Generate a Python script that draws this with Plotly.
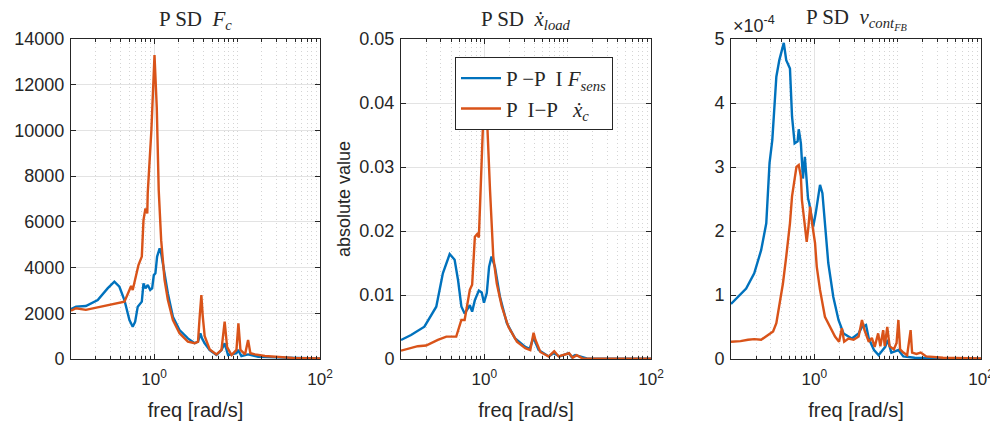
import plotly.graph_objects as go

# ── Dados ─────────────────────────────────────────────────────────────────
# PSD F_c
fc_freq_ppi = [0.1, 0.115, 0.151, 0.21, 0.276, 0.333, 0.383, 0.44, 0.506, 0.554,
               0.593, 0.637, 0.713, 0.747, 0.789, 0.842, 0.90, 0.95, 0.995, 1.04,
               1.09, 1.17, 1.22, 1.34, 1.47, 1.69, 2.03, 2.56, 3.09, 3.39, 3.62,
               3.79, 4.08, 4.69, 5.65, 6.5, 7.1, 7.8, 9.85, 10.3, 11.3, 13.6, 18,
               30, 50, 100]
fc_psd_ppi = [2180, 2290, 2320, 2580, 3090, 3380, 3160, 2580, 1700, 1410,
              1630, 2290, 2510, 3310, 3090, 3240, 3020, 3090, 3670, 3750,
              4480, 4840, 4620, 3750, 2870, 1850, 1270, 900, 690, 760, 1120,
              900, 690, 390, 175, 390, 690, 175, 250, 400, 130, 200, 100,
              70, 40, 20]

fc_freq_pip = [0.1, 0.115, 0.151, 0.21, 0.276, 0.365, 0.44, 0.506, 0.53, 0.554,
               0.593, 0.65, 0.713, 0.747, 0.77, 0.79, 0.83, 0.84, 0.93, 1.014,
               1.08, 1.14, 1.22, 1.34, 1.47, 1.69, 2.03, 2.56, 3.09, 3.39, 3.55,
               3.72, 3.86, 4.08, 4.69, 5.65, 6.5, 7.1, 7.6, 8.6, 9.85, 10.4, 11,
               12.5, 13.6, 14.5, 16.5, 21.7, 47, 100]
fc_psd_pip = [2110, 2220, 2150, 2260, 2360, 2460, 2510, 3020, 3200, 3020,
              3460, 4110, 4480, 6080, 6370, 6590, 6370, 7250, 10000, 13300,
              11000, 7390, 5200, 3460, 2580, 1700, 1120, 760, 690, 760, 1850,
              2800, 1900, 1000, 420, 200, 400, 1630, 520, 175, 400, 1560, 400,
              200, 830, 250, 200, 130, 50, 20]

# PSD x_load
xl_freq_ppi = [0.1, 0.132, 0.191, 0.265, 0.318, 0.384, 0.44, 0.484, 0.53, 0.58,
               0.67, 0.714, 0.77, 0.86, 0.93, 0.99, 1.07, 1.14, 1.22, 1.34,
               1.54, 1.86, 2.34, 3.1, 3.5, 3.9, 4.1, 4.48, 5.93, 6.8, 8, 10.3,
               11.2, 12.3, 17, 40, 100]
xl_psd_ppi = [0.00297, 0.00375, 0.00505, 0.00817, 0.0134, 0.0164, 0.0155, 0.0123,
              0.0082, 0.0071, 0.0084, 0.0074, 0.0092, 0.0107, 0.0104, 0.0088,
              0.0103, 0.0144, 0.016, 0.0144, 0.0097, 0.0056, 0.0032, 0.0019,
              0.0016, 0.0034, 0.0026, 0.0014, 0.0004, 0.0009, 0.0004, 0.0009,
              0.0003, 0.0006, 0.0001, 0.00005, 0.00003]

xl_freq_pip = [0.1, 0.159, 0.2, 0.277, 0.35, 0.46, 0.53, 0.58, 0.67, 0.714,
               0.77, 0.82, 0.86, 0.9, 0.96, 1.02, 1.09, 1.17, 1.28, 1.41, 1.62,
               1.95, 2.46, 3.1, 3.56, 3.9, 4.1, 4.7, 5.93, 6.9, 7.8, 10.4, 11.5,
               12.8, 15, 40, 100]
xl_psd_pip = [0.0013, 0.002, 0.0021, 0.003, 0.0035, 0.0035, 0.0061, 0.0061,
              0.0108, 0.0116, 0.0191, 0.0195, 0.019, 0.0264, 0.036, 0.0415,
              0.036, 0.0264, 0.016, 0.0118, 0.0082, 0.005, 0.0027, 0.0017,
              0.0014, 0.0041, 0.003, 0.0011, 0.0004, 0.0012, 0.0004, 0.0009,
              0.0002, 0.0006, 0.0001, 0.00005, 0.00003]

# PSD v_cont_FB (x 1e-4)
vc_freq_ppi = [0.1, 0.152, 0.19, 0.23, 0.265, 0.28, 0.29, 0.313, 0.35, 0.38,
               0.43, 0.46, 0.51, 0.54, 0.58, 0.63, 0.65, 0.69, 0.73, 0.77,
               0.81, 0.84, 0.87, 0.93, 0.97, 1.04, 1.1, 1.17, 1.25, 1.34, 1.47,
               1.69, 1.95, 2.24, 2.82, 3.4, 3.73, 4.17, 4.5, 5.2, 5.9, 7.1, 7.6,
               8.4, 10.2, 11.7, 16, 40, 100]
vc_psd_ppi = [0.86, 1.1, 1.34, 1.7, 2.12, 2.64, 3.06, 3.42, 4.41, 4.67,
              4.94, 4.67, 4.54, 3.79, 3.37, 3.4, 3.59, 3.37, 2.82, 3.16,
              2.85, 2.51, 2.43, 2.17, 2.07, 2.28, 2.5, 2.72, 2.59, 2.12, 1.5,
              0.97, 0.61, 0.4, 0.32, 0.4, 0.5, 0.53, 0.32, 0.14, 0.06, 0.19,
              0.3, 0.1, 0.14, 0.04, 0.02, 0.01, 0.005]

vc_freq_pip = [0.1, 0.13, 0.16, 0.19, 0.23, 0.277, 0.32, 0.35, 0.38, 0.42,
               0.46, 0.51, 0.54, 0.57, 0.61, 0.65, 0.69, 0.71, 0.77, 0.81,
               0.85, 0.89, 0.94, 1.02, 1.07, 1.17, 1.34, 1.54, 1.77, 1.98,
               2.14, 2.28, 2.57, 2.96, 3.4, 3.73, 4.0, 4.5, 4.9, 5.3, 5.83,
               6.2, 6.7, 7.0, 7.5, 8.0, 9.0, 9.7, 10.2, 10.7, 11.7, 13, 14.3,
               14.9, 16.8, 18.9, 22, 35, 100]
vc_psd_pip = [0.27, 0.28, 0.3, 0.31, 0.3, 0.375, 0.43, 0.56, 0.82, 1.18,
              1.6, 2.12, 2.54, 2.75, 3.0, 3.03, 2.85, 2.48, 2.12, 1.83,
              2.07, 2.38, 2.12, 1.81, 1.44, 1.08, 0.66, 0.5, 0.35, 0.27,
              0.48, 0.27, 0.32, 0.3, 0.35, 0.61, 0.45, 0.27, 0.33, 0.19, 0.4,
              0.2, 0.45, 0.2, 0.5, 0.2, 0.15, 0.25, 0.61, 0.15, 0.1, 0.06, 0.45,
              0.1, 0.08, 0.1, 0.04, 0.02, 0.01]

x_tick_vals = [1, 100]
x_tick_text = ["10<sup>0</sup>", "10<sup>2</sup>"]
minor_vals = ([m * 0.1 for m in range(2, 10)] + list(range(2, 10))
              + [10] + [m * 10 for m in range(2, 10)])

# ── Estilo ─────────────────────────────────────────────────────────────────
BLUE = "#0072BD"
ORANGE = "#D95319"
AX = "#262626"
SANS = "Liberation Sans, Arial, sans-serif"
SERIF = "Liberation Serif, DejaVu Serif, serif"

# a página tem 8 px de margem no body -> figura deslocada 8 px
OFF = 8
W, H = 998 - OFF, 425 - OFF
TOP, BOT = 39 - OFF, 359 - OFF


def px(x):
    return (x - OFF) / W


fig = go.Figure()

panels = [
    (fc_freq_ppi, fc_psd_ppi, fc_freq_pip, fc_psd_pip, 1.0),
    (xl_freq_ppi, xl_psd_ppi, xl_freq_pip, xl_psd_pip, 1.0),
    (vc_freq_ppi, vc_psd_ppi, vc_freq_pip, vc_psd_pip, 1e-4),
]
for i, (fa, ya, fb, yb, sc) in enumerate(panels):
    sfx = "" if i == 0 else str(i + 1)
    fig.add_trace(go.Scatter(
        x=fa, y=[v * sc for v in ya], mode="lines",
        line=dict(color=BLUE, width=2.4),
        name="P \u2212P  I <i>F</i><sub><i>sens</i></sub>",
        showlegend=(i == 1),
        xaxis="x" + sfx, yaxis="y" + sfx,
    ))
    fig.add_trace(go.Scatter(
        x=fb, y=[v * sc for v in yb], mode="lines",
        line=dict(color=ORANGE, width=2.4),
        name="P  I\u2212P   <i>x\u0307</i><sub><i>c</i></sub>",
        showlegend=(i == 1),
        xaxis="x" + sfx, yaxis="y" + sfx,
    ))

domains = [[px(71), px(320)], [px(401), px(651)], [px(731), px(981)]]
y_ticks = [
    ([0, 2000, 4000, 6000, 8000, 10000, 12000, 14000],
     ["0", "2000", "4000", "6000", "8000", "10000", "12000", "14000"], [0, 14000]),
    ([0, 0.01, 0.02, 0.03, 0.04, 0.05],
     ["0", "0.01", "0.02", "0.03", "0.04", "0.05"], [0, 0.05]),
    ([0, 1e-4, 2e-4, 3e-4, 4e-4, 5e-4],
     ["0", "1", "2", "3", "4", "5"], [0, 5e-4]),
]

layout = dict(
    width=W, height=H,
    margin=dict(l=0, r=0, t=TOP, b=H - BOT),
    paper_bgcolor="white", plot_bgcolor="white",
    font=dict(family=SANS, size=18, color=AX),
    showlegend=True,
    legend=dict(
        x=px(455), y=(359 - 57) / 320, xanchor="left", yanchor="top",
        bgcolor="white", bordercolor=AX, borderwidth=1,
        font=dict(family=SERIF, size=21, color=AX),
        tracegroupgap=0, itemwidth=40,
    ),
)
for i in range(3):
    sfx = "" if i == 0 else str(i + 1)
    tv, tt, rg = y_ticks[i]
    layout["xaxis" + sfx] = dict(
        type="log", range=[-1, 2], domain=domains[i], anchor="y" + sfx,
        tickvals=x_tick_vals, ticktext=x_tick_text, automargin=False,
        ticks="inside", ticklen=5, tickcolor=AX, mirror="ticks",
        ticklabelstandoff=5,
        showline=True, linecolor=AX, linewidth=1,
        showgrid=True, gridcolor="#e3e3e3", gridwidth=1,
        minor=dict(tickvals=minor_vals, ticks="inside", ticklen=3,
                   tickcolor=AX, showgrid=True, gridcolor="#d4d4d4",
                   griddash="1px,3px", gridwidth=1),
        zeroline=False,
        tickfont=dict(size=17),
        title=dict(text="freq [rad/s]", font=dict(size=20), standoff=14),
    )
    layout["yaxis" + sfx] = dict(
        range=rg, domain=[0, 1], anchor="x" + sfx, automargin=False,
        tickvals=tv, ticktext=tt, ticklabelstandoff=2,
        ticks="inside", ticklen=5, tickcolor=AX, mirror="ticks",
        showline=True, linecolor=AX, linewidth=1,
        showgrid=True, gridcolor="#e3e3e3", gridwidth=1,
        zeroline=False, tickfont=dict(size=18),
    )
layout["yaxis2"]["title"] = dict(text="absolute value", font=dict(size=18), standoff=4)
fig.update_layout(**layout)

titles = [
    ("P SD  <i>F</i><sub><i>c</i></sub>", 195),
    ("P SD  <i>x\u0307</i><sub><i>load</i></sub>", 526),
    ("P SD  <i>v</i><sub><i>cont</i><sub><i>FB</i></sub></sub>", 856),
]
for txt, cx in titles:
    fig.add_annotation(
        text=txt, x=px(cx), y=1, xref="paper", yref="paper",
        xanchor="center", yanchor="bottom", yshift=4, showarrow=False,
        font=dict(family=SERIF, size=21, color=AX),
    )
fig.add_annotation(
    text="\u00d710<sup>-4</sup>", x=px(731), y=1, xref="paper", yref="paper",
    xanchor="left", yanchor="bottom", yshift=1, showarrow=False,
    font=dict(family=SANS, size=18, color=AX),
)

fig.write_html("out.html")
